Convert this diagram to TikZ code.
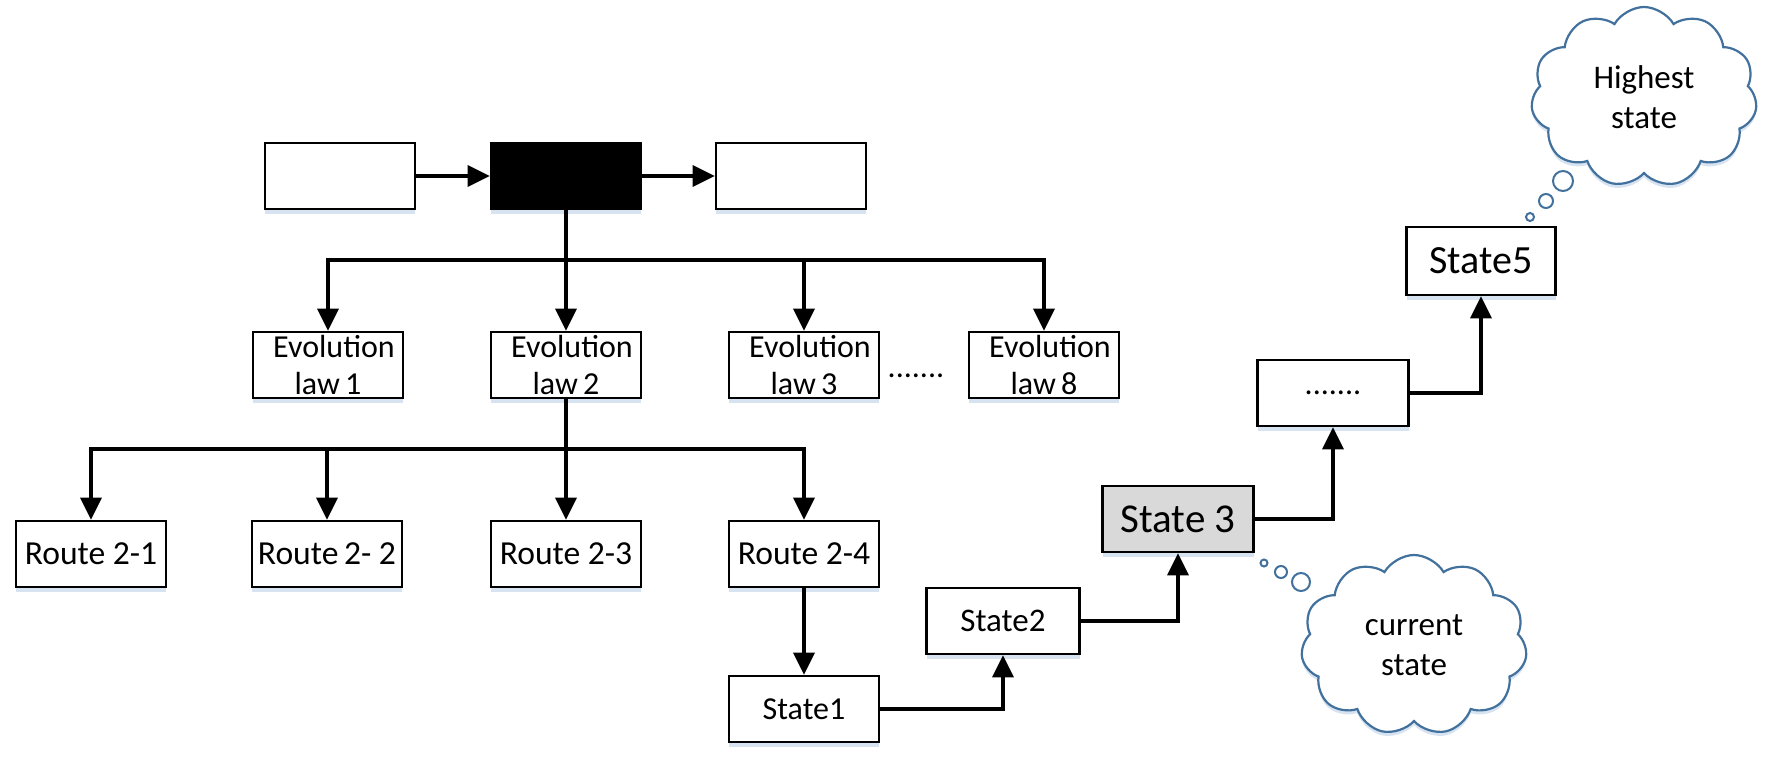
\documentclass[tikz,border=0pt]{standalone}
\usepackage{fontspec}
\setmainfont{Carlito}
\usetikzlibrary{arrows.meta,shapes.symbols,shadows}
\definecolor{cloudblue}{RGB}{65,113,156}
\definecolor{stategray}{RGB}{217,217,217}
\definecolor{shadowblue}{RGB}{205,220,238}
\begin{document}
\begin{tikzpicture}[x=0.5pt,y=-0.5pt,
  box/.style={draw=black, line width=1.3pt, fill=white, minimum width=75pt, minimum height=33pt, inner sep=0pt, align=center, font=\fontsize{16}{18.5}\selectfont, drop shadow={shadow xshift=0pt, shadow yshift=-2.5pt, fill=shadowblue, opacity=0.8}},
  conn/.style={line width=1.65pt, -{Triangle[length=11pt,width=10.5pt]}},
  plain/.style={line width=1.65pt},
  thought/.style={cloud, cloud puffs=11, cloud puff arc=120, draw=cloudblue, line width=1.1pt, fill=white, minimum width=113pt, minimum height=90pt, inner sep=0pt, align=center, font=\fontsize{16.5}{20}\selectfont, drop shadow={shadow xshift=0pt, shadow yshift=-2pt, fill=shadowblue, opacity=0.8}},
  bub/.style={circle, draw=cloudblue, line width=1pt, fill=white, inner sep=0pt}
]
\useasboundingbox (0,0) rectangle (1773,766);
% top row
\node[box] (a) at (340,176) {};
\node[box, fill=black] (b) at (566,176) {};
\node[box] (c) at (791,176) {};
\draw[conn] (a) -- (b);
\draw[conn] (b) -- (c);
% evolution laws
\node[box] (e1) at (328,365) {\hspace*{6pt}Evolution\\law\,1};
\node[box] (e2) at (566,365) {\hspace*{6pt}Evolution\\law\,2};
\node[box] (e3) at (804,365) {\hspace*{6pt}Evolution\\law\,3};
\node[box] (e8) at (1044,365) {\hspace*{6pt}Evolution\\law\,8};
\node[font=\fontsize{16}{18}\selectfont] (dotsA) at (916,376) {.......};
\coordinate (j1) at (566,260);
\draw[plain] (b.south) -- (j1);
\draw[conn] (j1) -| (e1.north);
\draw[conn] (j1) -- (e2.north);
\draw[conn] (j1) -| (e3.north);
\draw[conn] (j1) -| (e8.north);
% routes
\node[box, font=\fontsize{16.8}{19}\selectfont] (r1) at (91,554) {Route 2-1};
\node[box, font=\fontsize{16.8}{19}\selectfont] (r2) at (327,554) {Route\,2- 2};
\node[box, font=\fontsize{16.8}{19}\selectfont] (r3) at (566,554) {Route 2-3};
\node[box, font=\fontsize{16.8}{19}\selectfont] (r4) at (804,554) {Route 2-4};
\coordinate (j2) at (566,449);
\draw[plain] (e2.south) -- (j2);
\draw[conn] (j2) -| (r1.north);
\draw[conn] (j2) -| (r2.north);
\draw[conn] (j2) -- (r3.north);
\draw[conn] (j2) -| (r4.north);
% states
\node[box] (s1) at (804,709) {State1};
\node[box, minimum width=76.5pt, font=\fontsize{16.5}{19}\selectfont] (s2) at (1003,621) {State2};
\node[box, minimum width=75.5pt, fill=stategray, font=\fontsize{20.5}{23}\selectfont] (s3) at (1178,519) {State 3};
\node[box, minimum width=75.5pt] (d) at (1333,393) {.......};
\node[box, minimum width=74.5pt, minimum height=34pt, font=\fontsize{20}{22}\selectfont] (s5) at (1481,261) {State5};
\draw[conn] (r4) -- (s1);
\draw[conn] (s1.east) -| (s2.south);
\draw[conn] (s2.east) -| (s3.south);
\draw[conn] (s3.east) -| (d.south);
\draw[conn] (d.east) -| (s5.south);
% clouds
\node[thought] (ct) at (1644,97) {Highest\\state};
\node[bub, minimum size=10pt] (bt1) at (1563,181) {};
\node[bub, minimum size=7pt] (bt2) at (1546,201) {};
\node[bub, minimum size=4pt] (bt3) at (1530,217) {};
\node[thought] (cb) at (1414,645) {current\\state};
\node[bub, minimum size=9pt] (bb1) at (1301,582) {};
\node[bub, minimum size=6pt] (bb2) at (1281,572) {};
\node[bub, minimum size=3.5pt] (bb3) at (1264,563) {};
\end{tikzpicture}
\end{document}
